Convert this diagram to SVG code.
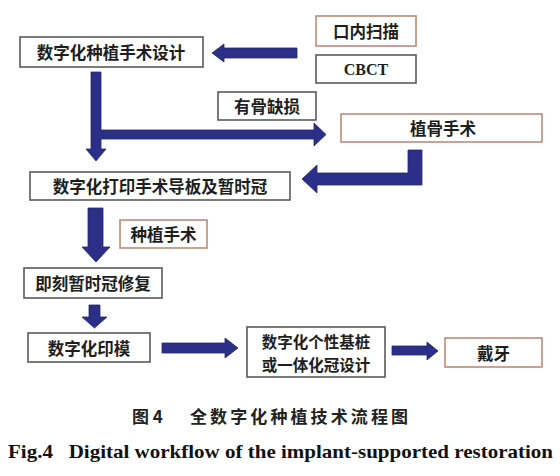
<svg xmlns="http://www.w3.org/2000/svg" width="560" height="476" viewBox="0 0 560 476">
<style>
.box{fill:#fff;stroke:#5a5a5a;stroke-width:1.6}
.obox{fill:#fff;stroke:#c08a78;stroke-width:1.6}
.t{font-family:"Noto Sans CJK SC","Noto Sans CJK TC",sans-serif;font-weight:700;font-size:16.5px;fill:#1e1e1e;text-anchor:middle;dominant-baseline:central}
.t2{font-size:15.5px}
.arr{fill:#2c2f88;stroke:#23266e;stroke-width:0.8}
</style>
<rect width="560" height="476" fill="#fff"/>
<g id="connectors">
<polygon class="arr" points="297,48 224,48 224,44 212,53 224,62 224,58 297,58"/>
<polygon class="arr" points="91,72 101,72 101,130 314,130 314,123 326,134.5 314,146 314,139 101,139 101,149 106,149 96,161 86,149 91,149"/>
<polygon class="arr" points="408,150 422,150 422,185 317,185 317,193 302,179 317,165 317,173 408,173"/>
<polygon class="arr" points="88,208 103,208 103,247 110,247 96,262 82,247 88,247"/>
<polygon class="arr" points="89,305 100,305 100,317 107,317 94.5,328 82,317 89,317"/>
<polygon class="arr" points="162,343 225,343 225,338 238,348 225,358 225,353 162,353"/>
<polygon class="arr" points="392,346 427,346 427,342 438,351 427,360 427,355 392,355"/>
</g>
<g id="n1"><rect class="box" x="20" y="37" width="183" height="30"/><text class="t" x="111" y="52">数字化种植手术设计</text></g>
<g id="n2"><rect class="obox" x="316" y="16" width="100" height="30"/><text class="t" x="366" y="31">口内扫描</text></g>
<g id="n3"><rect class="box" x="316" y="55" width="100" height="28"/><text x="366" y="75" font-family="Liberation Serif,serif" font-weight="700" font-size="16" fill="#1e1e1e" text-anchor="middle">CBCT</text></g>
<g id="n4"><rect class="box" x="218" y="92" width="98" height="28"/><text class="t" x="267" y="106">有骨缺损</text></g>
<g id="n5"><rect class="obox" x="341" y="114" width="201" height="28"/><text class="t" x="443" y="128">植骨手术</text></g>
<g id="n6"><rect class="box" x="30" y="172" width="260" height="28"/><text class="t" x="160" y="186">数字化打印手术导板及暂时冠</text></g>
<g id="n7"><rect class="obox" x="120" y="220" width="87" height="28"/><text class="t" x="163.5" y="234">种植手术</text></g>
<g id="n8"><rect class="box" x="24" y="268" width="138" height="30"/><text class="t" x="93" y="283">即刻暂时冠修复</text></g>
<g id="n9"><rect class="box" x="28" y="333" width="122" height="29"/><text class="t" x="89" y="347.5">数字化印模</text></g>
<g id="n10"><rect class="box" x="247" y="327" width="138" height="50"/><text class="t t2" x="316" y="341">数字化个性基桩</text><text class="t t2" x="316" y="363.5">或一体化冠设计</text></g>
<g id="n11"><rect class="obox" x="445" y="338" width="97" height="29"/><text class="t" x="493.5" y="352.5">戴牙</text></g>
<g id="caption">
<text x="132" y="423" font-family="Noto Sans CJK SC,sans-serif" font-weight="700" font-size="17" fill="#222">图 4</text>
<text x="190" y="423" font-family="Noto Sans CJK SC,sans-serif" font-weight="700" font-size="17" fill="#222" textLength="218" lengthAdjust="spacing">全数字化种植技术流程图</text>
<text x="8" y="458" font-family="Liberation Serif,serif" font-weight="700" font-size="19" fill="#111" textLength="545" lengthAdjust="spacingAndGlyphs" xml:space="preserve">Fig.4   Digital workflow of the implant-supported restoration</text>
</g>
</svg>
